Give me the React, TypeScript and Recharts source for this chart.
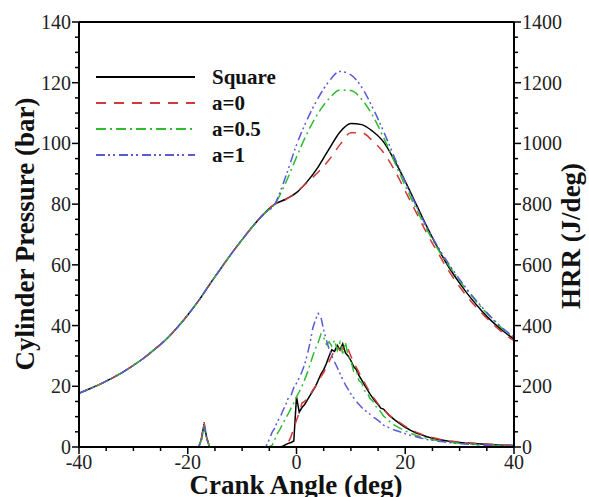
import { LineChart, Line, XAxis, YAxis, ReferenceLine, Legend } from 'recharts'

const FONT = "'Liberation Serif', serif"

// Cylinder pressure (bar), every 2 deg crank angle
const pressureAngles = [
  -40, -38, -36, -34, -32, -30, -28, -26, -24, -22, -20, -18, -16, -14, -12, -10, -8, -6, -4,
  -2, 0, 2, 4, 6, 8, 10, 12, 14, 16, 18, 20, 22, 24, 26, 28, 30, 32, 34, 36, 38, 40
]
// shared compression part, -40..-4
const motoredPressure = [
  17.7, 19.2, 20.8, 22.6, 24.6, 26.9, 29.4, 32.3, 35.4, 39.2, 43.5, 48.2, 53.5, 58.6, 63.6, 68.3, 72.8, 76.8, 80.0
]
// combustion part, -2..40
const squarePressureTail = [
  81.6, 83.8, 87.5, 92.3, 98.2, 103.8, 106.6, 106.2, 104, 100.5, 94.5, 87.5, 80, 72.5, 65.5, 59.3, 54, 49.2, 45, 41.3, 38.2, 35.5
]
const a0PressureTail = [
  81.5, 84, 87.2, 90.6, 94.6, 99.6, 103.5, 103.5, 100.8, 97, 91.3, 84.3, 77.3, 70.3, 64, 58, 52.8, 48.2, 44.2, 40.7, 37.6, 35
]
const a05PressureTail = [
  87, 95.5, 103.5, 110, 114.8, 117.6, 117.4, 114.5, 109.2, 102, 94, 86, 78.5, 71.5, 65.2, 59.8, 54.8, 50.2, 46, 42.2, 38.8, 36
]
const a1PressureTail = [
  89, 99.5, 108, 115, 120.5, 123.7, 122.6, 118.5, 111.8, 104, 95.5, 87.3, 79.5, 72.3, 66, 60.3, 55.2, 50.5, 46.3, 42.4, 39, 36.2
]

// Heat release rate (J/deg)
const hrrAngles = [
  -40, -20, -18, -17.5, -17, -16.5, -16, -14, -8,
  -6.5, -6, -5.5, -5, -4.5, -4, -3.5, -3, -2.5, -2,
  -1.5, -1, -0.5, 0, 0.5, 1, 1.5, 2, 2.5, 3,
  3.5, 4, 4.5, 5, 5.5, 6, 6.5, 7, 7.5, 8,
  8.5, 9, 9.5, 10, 10.5, 11, 11.5, 12, 12.5, 13,
  13.5, 14, 14.5, 15, 15.5, 16,
  17, 18, 19, 20, 21, 22, 23, 24, 25, 26, 27, 28,
  29, 30, 31, 32, 33, 34, 35, 36, 37, 38, 39, 40
]
const squareHrr = [
  0, 0, 0, 25, 75, 30, 0, 0, 0,
  0, 0, 0, 0, 0, 0, 0, 0, 3, 8,
  12, 15, 20, 165, 115, 130, 140, 155, 170, 185,
  200, 220, 240, 255, 275, 300, 320, 315, 335, 320,
  340, 310, 300, 285, 265, 255, 235, 220, 205, 190,
  175, 162, 150, 140, 128, 125,
  105, 90, 77, 65, 55, 46, 40, 34, 29, 25, 22, 19,
  17, 15, 13, 12, 11, 10, 9, 8, 7, 6, 6, 5
]
const a0Hrr = [
  0, 0, 0, 28, 82, 32, 0, 0, 0,
  0, 0, 0, 0, 0, 0, 0, 0, 3, 8,
  15, 35, 62, 88, 112, 145, 150, 162, 172, 188,
  200, 215, 232, 245, 265, 282, 300, 320, 330, 318,
  326, 310, 322, 300, 278, 262, 245, 228, 212, 196,
  180, 166, 155, 142, 132, 124,
  106, 92, 80, 68, 57, 49, 42, 36, 31, 27, 23, 20,
  18, 16, 14, 13, 12, 10, 9, 8, 7, 6, 6, 5
]
const a05Hrr = [
  0, 0, 0, 22, 72, 28, 0, 0, 0,
  0, 0, 0, 2, 5, 25, 45, 60, 78, 95,
  110, 128, 145, 165, 182, 200, 222, 245, 272, 300,
  325, 345, 372, 360, 338, 346, 332, 352, 318, 345,
  308, 345, 298, 285, 250, 252, 218, 212, 185, 180,
  160, 152, 135, 128, 115, 102,
  86, 72, 62, 53, 45, 38, 33, 28, 24, 21, 18, 16,
  14, 12, 11, 10, 8, 7, 6, 5, 5, 4, 3, 3
]
const a1Hrr = [
  0, 0, 0, 20, 68, 25, 0, 0, 0,
  0, 2, 6, 25, 48, 62, 85, 98, 120, 138,
  162, 170, 196, 210, 228, 248, 272, 305, 345, 392,
  420, 440, 428, 385, 352, 322, 300, 280, 262, 242,
  222, 205, 190, 175, 162, 150, 140, 130, 122, 115,
  108, 100, 94, 88, 80, 72,
  64, 56, 50, 44, 38, 34, 29, 25, 22, 19, 17, 15,
  13, 11, 10, 9, 8, 7, 6, 5, 4, 4, 3, 3
]

// axis ticks (minor + major)
const xTicks = [-40, -35, -30, -25, -20, -15, -10, -5, 0, 5, 10, 15, 20, 25, 30, 35, 40]
const pTicks = [0, 5, 10, 15, 20, 25, 30, 35, 40, 45, 50, 55, 60, 65, 70, 75, 80, 85, 90, 95, 100, 105, 110, 115, 120, 125, 130, 135, 140]
const hTicks = [0, 50, 100, 150, 200, 250, 300, 350, 400, 450, 500, 550, 600, 650, 700, 750, 800, 850, 900, 950, 1000, 1050, 1100, 1150, 1200, 1250, 1300, 1350, 1400]

const SERIES = [
  { key: 'square', name: 'Square', color: '#000000', dash: undefined as string | undefined },
  { key: 'a0', name: 'a=0', color: '#d23a3a', dash: '10 8' },
  { key: 'a05', name: 'a=0.5', color: '#2fbd2f', dash: '10 4 2 4' },
  { key: 'a1', name: 'a=1', color: '#5a5ad6', dash: '9 3 2 3 2 4' }
]

const pressureRows = pressureAngles.map((angle, i) => ({
  angle,
  square: [...motoredPressure, ...squarePressureTail][i],
  a0: [...motoredPressure, ...a0PressureTail][i],
  a05: [...motoredPressure, ...a05PressureTail][i],
  a1: [...motoredPressure, ...a1PressureTail][i]
}))

const hrrRows = hrrAngles.map((angle, i) => ({
  angle,
  square: squareHrr[i],
  a0: a0Hrr[i],
  a05: a05Hrr[i],
  a1: a1Hrr[i]
}))

const XTick = ({ x, y, payload }: any) => {
  const v = payload.value
  const major = v % 20 === 0
  return (
    <g>
      <line x1={x} y1={y} x2={x} y2={y + (major ? 7 : 4)} stroke="#000" strokeWidth={1.5} />
      {major && (
        <text x={x} y={y + 22} textAnchor="middle" fontSize={20} style={{ fontFamily: FONT }} fill="#222">
          {String(v)}
        </text>
      )}
    </g>
  )
}

const LeftTick = ({ x, y, payload }: any) => {
  const v = payload.value
  const major = v % 20 === 0
  return (
    <g>
      <line x1={x} y1={y} x2={x - (major ? 7 : 4)} y2={y} stroke="#000" strokeWidth={1.5} />
      {major && (
        <text x={x - 8} y={y + 7} textAnchor="end" fontSize={20} style={{ fontFamily: FONT }} fill="#222">
          {String(v)}
        </text>
      )}
    </g>
  )
}

const RightTick = ({ x, y, payload }: any) => {
  const v = payload.value
  const major = v % 200 === 0
  return (
    <g>
      <line x1={x} y1={y} x2={x + (major ? 7 : 4)} y2={y} stroke="#000" strokeWidth={1.5} />
      {major && (
        <text x={x + 8} y={y + 7} textAnchor="start" fontSize={20} style={{ fontFamily: FONT }} fill="#222">
          {String(v)}
        </text>
      )}
    </g>
  )
}

const renderLegend = () => (
  <div style={{ fontFamily: FONT }}>
    {SERIES.map((s) => (
      <div key={s.key} style={{ display: 'flex', alignItems: 'center', height: 26 }}>
        <svg width={99} height={4} style={{ marginRight: 17 }}>
          <line x1={0} y1={2} x2={99} y2={2} stroke={s.color} strokeWidth={2} strokeDasharray={s.dash} />
        </svg>
        <span style={{ fontSize: 21, fontWeight: 'bold', lineHeight: '26px', color: '#111' }}>{s.name}</span>
      </div>
    ))}
  </div>
)

const titleStyle = {
  position: 'absolute' as const,
  fontFamily: FONT,
  fontWeight: 'bold' as const,
  fontSize: 27,
  color: '#111',
  whiteSpace: 'nowrap' as const,
  lineHeight: 1
}

export default function App() {
  return (
    <div style={{ position: 'absolute', left: 0, top: 0, width: 589, height: 497, background: '#fff', overflow: 'hidden', fontFamily: FONT }}>
      <LineChart width={589} height={497} margin={{ top: 22, right: 15, bottom: 20, left: 19 }}>
        <XAxis
          dataKey="angle"
          type="number"
          domain={[-40, 40]}
          ticks={xTicks}
          interval={0}
          tickSize={0}
          tickMargin={0}
          tickLine={false}
          tick={<XTick />}
          height={30}
          axisLine={{ stroke: '#000', strokeWidth: 2 }}
          allowDataOverflow
        />
        <YAxis
          yAxisId="p"
          orientation="left"
          domain={[0, 140]}
          ticks={pTicks}
          interval={0}
          tickSize={0}
          tickMargin={0}
          tickLine={false}
          tick={<LeftTick />}
          width={60}
          axisLine={{ stroke: '#000', strokeWidth: 2 }}
          allowDataOverflow
        />
        <YAxis
          yAxisId="h"
          orientation="right"
          domain={[0, 1400]}
          ticks={hTicks}
          interval={0}
          tickSize={0}
          tickMargin={0}
          tickLine={false}
          tick={<RightTick />}
          width={60}
          axisLine={{ stroke: '#000', strokeWidth: 2 }}
          allowDataOverflow
        />
        <ReferenceLine y={140} yAxisId="p" stroke="#000" strokeWidth={2} />
        <Legend
          layout="vertical"
          align="center"
          verticalAlign="middle"
          content={renderLegend}
          wrapperStyle={{ left: 96, top: 64, width: 230 }}
        />
        {SERIES.map((s) => (
          <Line
            key={'h-' + s.key}
            yAxisId="h"
            data={hrrRows}
            dataKey={s.key}
            type="linear"
            stroke={s.color}
            strokeWidth={1.5}
            strokeDasharray={s.dash}
            dot={false}
            activeDot={false}
            isAnimationActive={false}
            legendType="none"
          />
        ))}
        {SERIES.map((s) => (
          <Line
            key={'p-' + s.key}
            yAxisId="p"
            data={pressureRows}
            dataKey={s.key}
            type="monotone"
            stroke={s.color}
            strokeWidth={1.5}
            strokeDasharray={s.dash}
            dot={false}
            activeDot={false}
            isAnimationActive={false}
            legendType="none"
          />
        ))}
      </LineChart>
      <div style={{ ...titleStyle, left: 296, top: 485, transform: 'translate(-50%, -50%)' }}>Crank Angle (deg)</div>
      <div style={{ ...titleStyle, left: 25, top: 234, transform: 'translate(-50%, -50%) rotate(-90deg)' }}>
        Cylinder Pressure (bar)
      </div>
      <div style={{ ...titleStyle, left: 571, top: 236, transform: 'translate(-50%, -50%) rotate(-90deg)' }}>
        HRR (J/deg)
      </div>
    </div>
  )
}
